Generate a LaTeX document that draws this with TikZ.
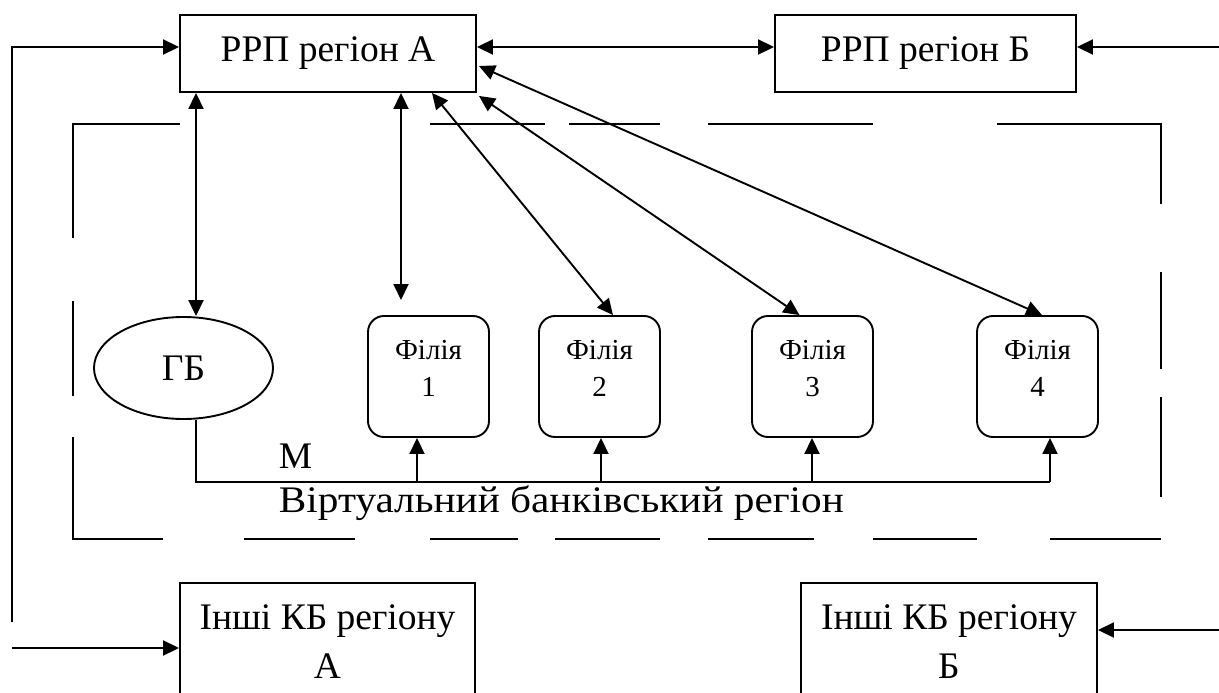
\documentclass[tikz,border=0pt]{standalone}
\usepackage{fontspec}
\usepackage{graphicx}
\setmainfont{Liberation Serif}
\usetikzlibrary{arrows.meta,shapes.geometric}
\begin{document}
\begin{tikzpicture}[x=1pt,y=-1pt,
  line width=1.9pt,
  >={Triangle[length=16pt,width=15pt]},
  bigtext/.style={font=\fontsize{37.5}{49}\selectfont},
  box/.style={draw,rectangle,inner sep=0pt,align=center,bigtext},
  branch/.style={draw,rectangle,rounded corners=16pt,inner sep=0pt,
    minimum width=121pt,minimum height=121pt},
  branchtext/.style={align=center,inner sep=0pt,font=\fontsize{29}{37}\selectfont},
  dashframe/.style={line width=1.9pt,line cap=butt}
]
\useasboundingbox (0,0) rectangle (1219,693);
\clip (0,0) rectangle (1219,693);

% settlement centres of the two regions
\node[box,minimum width=296pt,minimum height=77pt] (rrpA) at (328,53.5) {РРП регіон А};
\node[box,minimum width=301pt,minimum height=77pt] (rrpB) at (925.5,53.5) {РРП регіон Б};

% other commercial banks of each region
\node[box,minimum width=295pt,minimum height=118pt] (kbA) at (327.5,642) {Інші КБ регіону\\А};
\node[box,minimum width=296pt,minimum height=118pt] (kbB) at (949,642) {Інші КБ регіону\\Б};

% head bank and its branches
\node[draw,ellipse,inner sep=0pt,minimum width=179pt,minimum height=102pt,bigtext] (gb) at (183.5,368) {ГБ};
\node[branch] (f1) at (428.5,376.5) {};
\node[branch] (f2) at (599.5,376.5) {};
\node[branch] (f3) at (812.5,376.5) {};
\node[branch] (f4) at (1037.5,376.5) {};
\node[branchtext] (t1) at ([yshift=8pt]f1.center) {Філія\\1};
\node[branchtext] (t2) at ([yshift=8pt]f2.center) {Філія\\2};
\node[branchtext] (t3) at ([yshift=8pt]f3.center) {Філія\\3};
\node[branchtext] (t4) at ([yshift=8pt]f4.center) {Філія\\4};

% dashed border of the virtual banking region
\draw[dashframe]
  (180,124) -- (73,124) -- (73,238)
  (73,301) -- (73,396)
  (73,437) -- (73,539) -- (163,539)
  (244,539) -- (355,539)
  (430,539) -- (518,539)
  (555,539) -- (660,539)
  (708,539) -- (814,539)
  (873,539) -- (977,539)
  (1050,539) -- (1161,539)
  (430,124) -- (545,124)
  (569,124) -- (660,124)
  (708,124) -- (873,124)
  (997,124) -- (1161,124) -- (1161,204)
  (1161,272) -- (1161,369)
  (1161,397) -- (1161,497);

% links between the two settlement centres and the outside
\draw[<->] ([yshift=6.5pt]rrpA.east) -- ([yshift=6.5pt]rrpB.west);
\coordinate (inB) at (1219,47);
\draw[->] (inB) -- ([yshift=6.5pt]rrpB.east);
\coordinate (outA) at (12,622);
\draw[->] (outA) |- ([yshift=6.5pt]rrpA.west);
\coordinate (inKA) at (12,648);
\draw[->] (inKA) -- ([yshift=-6pt]kbA.west);
\coordinate (inKB) at (1219,630);
\draw[->] (inKB) -- ([yshift=12pt]kbB.east);

% links from the regional centre into the virtual region
\coordinate (g0) at (196,0);
\draw[<->] (rrpA.south -| g0) -- (g0 |- gb.north);
\coordinate (p1) at (401,300);
\draw[<->] (rrpA.south -| p1) -- (p1);
\draw[<->] ([xshift=104pt]rrpA.south) -- ([xshift=13.5pt]f2.north);
\draw[<->] ([xshift=2pt,yshift=-3pt]rrpA.south east) -- ([xshift=-13pt]f3.north);
\draw[<->] ([xshift=2pt,yshift=-12.5pt]rrpA.east) -- ([xshift=4.5pt]f4.north);

% internal bus from the head bank to the branches
\coordinate (b0) at (196,482);
\coordinate (b1) at (417,482);
\coordinate (b2) at (601,482);
\coordinate (b3) at (812,482);
\coordinate (b4) at (1050,482);
\draw (b0 |- gb.south) -- (b0) -- (b4);
\draw[->] (b1) -- (b1 |- f1.south);
\draw[->] (b2) -- (b2 |- f2.south);
\draw[->] (b3) -- (b3 |- f3.south);
\draw[->] (b4) -- (b4 |- f4.south);

\node[bigtext,anchor=base west,inner sep=0pt] (m) at (278,468) {М};
\node[bigtext,anchor=base west,inner sep=0pt] (vr) at (278,512) {\scalebox{1.1}[1]{Віртуальний банківський регіон}};
\end{tikzpicture}
\end{document}
